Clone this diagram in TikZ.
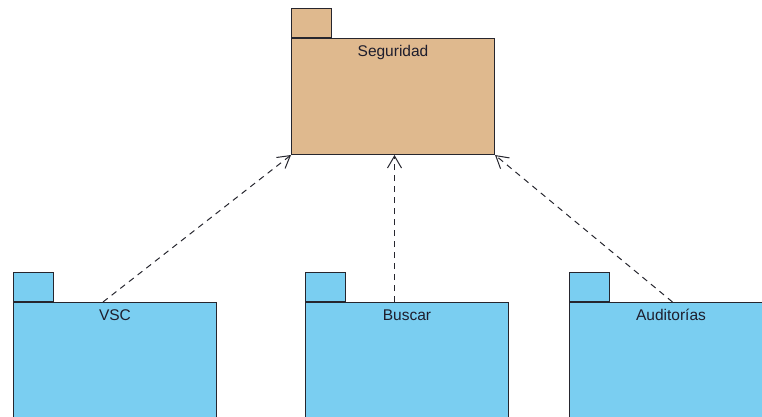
\documentclass[tikz,border=0pt]{standalone}
\usepackage{fontspec}
\setmainfont{Liberation Sans}
\usetikzlibrary{arrows.meta,positioning}
\definecolor{pkgtan}{RGB}{223,185,142}
\definecolor{pkgblue}{RGB}{122,206,241}
\definecolor{pkgline}{RGB}{38,38,46}
\definecolor{pkgtext}{RGB}{30,30,45}

\begin{document}
\begin{tikzpicture}[
    x=1pt, y=-1pt,
    package/.style={draw=pkgline, line width=1pt, inner sep=0pt,
      minimum width=203pt, minimum height=116pt, anchor=north west},
    pkgtab/.style={draw=pkgline, line width=1pt, inner sep=0pt,
      minimum width=40pt, minimum height=29pt, anchor=south west},
    pkgname/.style={anchor=base, inner sep=0pt, text=pkgtext,
      font=\fontsize{15.5}{17}\selectfont},
    uses/.style={draw=pkgline, line width=1pt, dash pattern=on 6pt off 5pt,
      -{Straight Barb[length=12pt,width=14pt]}},
  ]
  \useasboundingbox (0,0) rectangle (762,416);

  % packages
  \node[package, fill=pkgtan] (seg) at (291,38) {};
  \node[pkgtab, fill=pkgtan] (segTab) at (seg.north west) {};
  \node[pkgname] (segName) at ([yshift=-18pt]seg.north) {Seguridad};

  \node[package, fill=pkgblue] (vsc) at (13,302) {};
  \node[pkgtab, fill=pkgblue] (vscTab) at (vsc.north west) {};
  \node[pkgname] (vscName) at ([yshift=-18pt]vsc.north) {VSC};

  \node[package, fill=pkgblue] (bus) at (305,302) {};
  \node[pkgtab, fill=pkgblue] (busTab) at (bus.north west) {};
  \node[pkgname] (busName) at ([yshift=-18pt]bus.north) {Buscar};

  \node[package, fill=pkgblue] (aud) at (569,302) {};
  \node[pkgtab, fill=pkgblue] (audTab) at (aud.north west) {};
  \node[pkgname] (audName) at ([yshift=-18pt]aud.north) {Auditorías};

  % dependencies
  \draw[uses] ([xshift=-12pt]vsc.north) -- (seg.south west);
  \draw[uses] ([xshift=-12.5pt]bus.north) -- ([xshift=1.5pt]seg.south);
  \draw[uses] ([xshift=1.5pt]aud.north) -- (seg.south east);
\end{tikzpicture}
\end{document}
